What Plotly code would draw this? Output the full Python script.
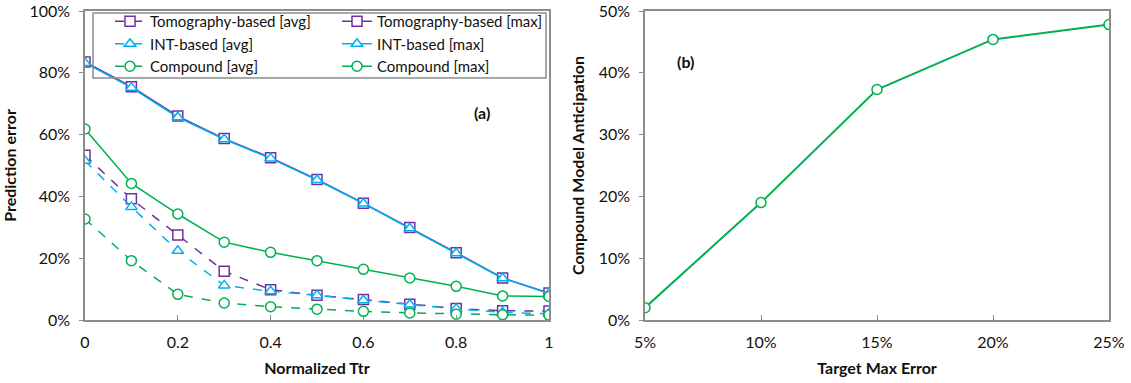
import plotly.graph_objects as go

# Panel (a): prediction error vs normalized Ttr
ttr = [0, 0.1, 0.2, 0.3, 0.4, 0.5, 0.6, 0.7, 0.8, 0.9, 1.0]
tomo_avg = [0.533, 0.392, 0.275, 0.158, 0.098, 0.080, 0.066, 0.051, 0.037, 0.030, 0.029]
tomo_max = [0.835, 0.755, 0.660, 0.587, 0.525, 0.455, 0.378, 0.299, 0.218, 0.136, 0.087]
int_avg = [0.515, 0.366, 0.224, 0.112, 0.093, 0.080, 0.064, 0.050, 0.036, 0.025, 0.020]
int_max = [0.832, 0.752, 0.656, 0.585, 0.523, 0.453, 0.377, 0.297, 0.216, 0.135, 0.086]
comp_avg = [0.327, 0.192, 0.083, 0.055, 0.043, 0.035, 0.028, 0.023, 0.019, 0.017, 0.016]
comp_max = [0.618, 0.442, 0.343, 0.252, 0.219, 0.192, 0.164, 0.136, 0.109, 0.078, 0.076]

# Panel (b): compound model anticipation vs target max error
target_err = ["5%", "10%", "15%", "20%", "25%"]
anticipation = [0.020, 0.190, 0.373, 0.454, 0.478]

PURPLE = "#7030A0"
BLUE = "#00B0F0"
GREEN = "#00B050"
AXIS = "#8C8C8C"
FONT = "Lato"
TXT = "#111111"
FS = 16

fig = go.Figure()

series = [
    ("Tomography-based [avg]", tomo_avg, PURPLE, "square", "dash", "legend"),
    ("INT-based [avg]", int_avg, BLUE, "triangle-up", "dash", "legend"),
    ("Compound [avg]", comp_avg, GREEN, "circle", "dash", "legend"),
    ("Tomography-based [max]", tomo_max, PURPLE, "square", "solid", "legend2"),
    ("INT-based [max]", int_max, BLUE, "triangle-up", "solid", "legend2"),
    ("Compound [max]", comp_max, GREEN, "circle", "solid", "legend2"),
]
for name, vals, color, sym, dash, leg in series:
    fig.add_trace(go.Scatter(
        x=ttr, y=vals, name=name, mode="lines+markers",
        line=dict(color=color, width=1.5, dash=dash),
        marker=dict(symbol=sym, size=10, color="white",
                    line=dict(color=color, width=1.5)),
        xaxis="x", yaxis="y", legend=leg,
    ))

fig.add_trace(go.Scatter(
    x=target_err, y=anticipation, mode="lines+markers", showlegend=False,
    line=dict(color=GREEN, width=2),
    marker=dict(symbol="circle", size=10, color="white",
                line=dict(color=GREEN, width=1.5)),
    xaxis="x2", yaxis="y2",
))

W, H = 1131, 383
T, B = 11, 63
PH = H - T - B  # plot height in px


def py(px_from_top):
    """Convert a pixel row (from page top) into paper y."""
    return (H - B - px_from_top) / PH


ax_common = dict(
    showline=True, linecolor=AXIS, linewidth=1.5, mirror=True,
    showgrid=False, zeroline=False, automargin=False,
    ticklabeloverflow="allow",
    tickfont=dict(family=FONT, size=FS, color=TXT),
    title_font=dict(family=FONT, size=FS, color=TXT),
)
leg_common = dict(
    xref="paper", yref="paper", xanchor="left", yanchor="top",
    bgcolor="rgba(0,0,0,0)", font=dict(family=FONT, size=15, color=TXT),
    tracegroupgap=0, itemwidth=30,
)

fig.update_layout(
    width=W, height=H,
    margin=dict(l=0, r=0, t=T, b=B),
    paper_bgcolor="white", plot_bgcolor="white",
    font=dict(family=FONT, size=FS, color=TXT),
    xaxis=dict(domain=[85 / W, 549 / W], range=[0, 1], tickvals=[0, 0.2, 0.4, 0.6, 0.8, 1],
               ticktext=["0", "0.2", "0.4", "0.6", "0.8", "1"],
               ticks="inside", ticklen=5, tickcolor=AXIS, ticklabelstandoff=7,
               title=dict(text="<b>Normalized Ttr</b>", standoff=13), **ax_common),
    yaxis=dict(range=[0, 1], tickformat=".0%", dtick=0.2,
               ticks="outside", ticklen=4, tickcolor=AXIS, ticklabelstandoff=6,
               title=dict(text="<b>Prediction error</b>", standoff=17), **ax_common),
    xaxis2=dict(domain=[645 / W, 1109 / W], anchor="y2", type="category",
                range=[0, 4], ticks="inside", ticklen=5, tickcolor=AXIS, ticklabelstandoff=7,
                title=dict(text="<b>Target Max Error</b>", standoff=13), **ax_common),
    yaxis2=dict(anchor="x2", range=[0, 0.5], tickformat=".0%", dtick=0.1,
                ticks="outside", ticklen=4, tickcolor=AXIS, ticklabelstandoff=6,
                title=dict(text="<b>Compound Model Anticipation</b>", standoff=10), **ax_common),
    legend=dict(x=110 / W, y=py(5), **leg_common),
    legend2=dict(x=337 / W, y=py(5), **leg_common),
    shapes=[dict(type="rect", xref="paper", yref="paper",
                 x0=93 / W, x1=546 / W, y0=py(78), y1=py(13),
                 line=dict(color=AXIS, width=1.5), fillcolor="rgba(0,0,0,0)")],
    annotations=[
        dict(text="<b>(a)</b>", x=0.855, y=0.672, xref="x", yref="y", showarrow=False,
             font=dict(family=FONT, size=FS, color=TXT)),
        dict(text="<b>(b)</b>", xref="x2 domain", yref="y2 domain", x=0.065, y=0.875,
             showarrow=False, font=dict(family=FONT, size=FS, color=TXT)),
    ],
)

fig.write_html("out.html")
